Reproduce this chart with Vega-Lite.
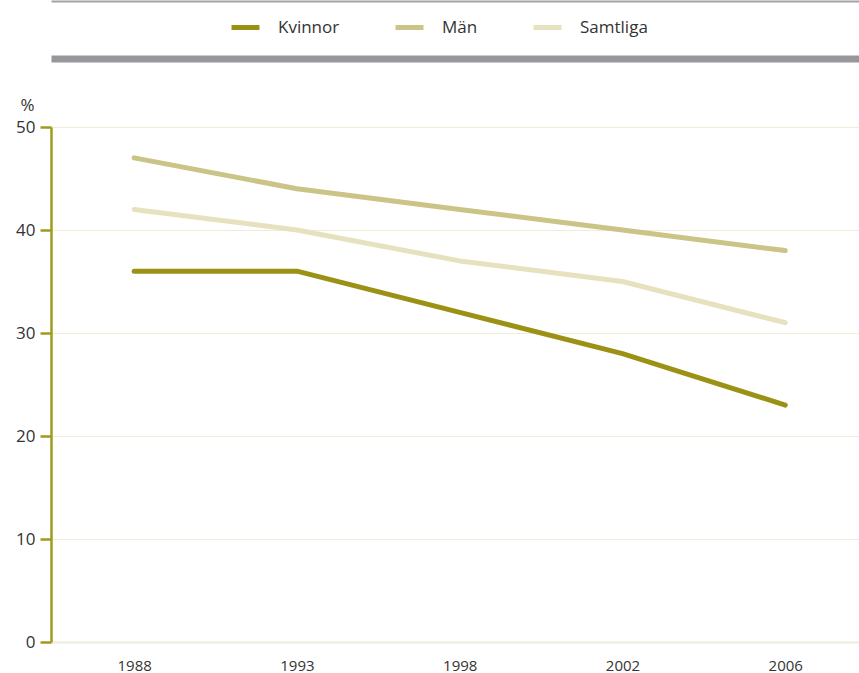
{
  "$schema": "https://vega.github.io/schema/vega-lite/v6.json",
  "width": 808,
  "height": 515,
  "autosize": "none",
  "padding": {"left": 51, "top": 127, "right": 0, "bottom": 31},
  "background": "white",
  "config": {
    "view": {"stroke": null},
    "font": "Open Sans",
    "axis": {"labelFont": "Open Sans", "titleFont": "Open Sans", "labelColor": "#333333", "titleColor": "#333333"},
    "legend": {"labelFont": "Open Sans"}
  },
  "data": {
    "values": [
      {"year": "1988", "group": "Kvinnor", "value": 36},
      {"year": "1993", "group": "Kvinnor", "value": 36},
      {"year": "1998", "group": "Kvinnor", "value": 32},
      {"year": "2002", "group": "Kvinnor", "value": 28},
      {"year": "2006", "group": "Kvinnor", "value": 23},
      {"year": "1988", "group": "Män", "value": 47},
      {"year": "1993", "group": "Män", "value": 44},
      {"year": "1998", "group": "Män", "value": 42},
      {"year": "2002", "group": "Män", "value": 40},
      {"year": "2006", "group": "Män", "value": 38},
      {"year": "1988", "group": "Samtliga", "value": 42},
      {"year": "1993", "group": "Samtliga", "value": 40},
      {"year": "1998", "group": "Samtliga", "value": 37},
      {"year": "2002", "group": "Samtliga", "value": 35},
      {"year": "2006", "group": "Samtliga", "value": 31}
    ]
  },
  "layer": [
    {
      "mark": {"type": "line", "strokeWidth": 5, "strokeCap": "round", "strokeJoin": "round"},
      "encoding": {
        "x": {
          "field": "year", "type": "ordinal",
          "scale": {"type": "point", "padding": 0.482, "align": 0.53},
          "axis": {
            "title": null, "labelAngle": 0, "ticks": false, "labelPadding": 16,
            "labelFontSize": 15, "grid": false,
            "domain": true, "domainColor": "#efecd8", "domainWidth": 2
          }
        },
        "y": {
          "field": "value", "type": "quantitative",
          "scale": {"domain": [0, 50], "nice": false},
          "axis": {
            "values": [0, 10, 20, 30, 40, 50],
            "title": "%", "titleAngle": 0, "titleX": -24, "titleY": -13,
            "titleAlign": "center", "titleBaseline": "bottom",
            "titleFontSize": 17, "titleFontWeight": "normal",
            "labelFontSize": 17, "labelPadding": 5,
            "tickSize": 11, "tickWidth": 2.5, "tickColor": "#a09a1f",
            "domainColor": "#a09a1f", "domainWidth": 2.5,
            "grid": true, "gridColor": "#efecd8", "gridWidth": 1
          }
        },
        "color": {
          "field": "group", "type": "nominal",
          "scale": {"domain": ["Kvinnor", "Män", "Samtliga"], "range": ["#9b9215", "#cac486", "#e6e2bf"]},
          "legend": {
            "title": null, "orient": "none", "direction": "horizontal",
            "legendX": 178, "legendY": -116, "gridAlign": "none",
            "symbolType": "stroke", "symbolSize": 784, "symbolStrokeWidth": 5,
            "labelFontSize": 17, "labelColor": "#333333", "labelOffset": 16,
            "columnPadding": 45
          }
        }
      }
    },
    {
      "mark": {"type": "line", "strokeOpacity": 0},
      "encoding": {
        "x": {
          "field": "year", "type": "ordinal",
          "scale": {"type": "point", "padding": 0.482, "align": 0.53},
          "axis": {"orient": "top", "offset": 68.5, "title": null, "labels": false, "ticks": false, "grid": false, "domainColor": "#97979b", "domainWidth": 7}
        },
        "y": {"field": "value", "type": "quantitative"},
        "detail": {"field": "group"}
      }
    },
    {
      "mark": {"type": "line", "strokeOpacity": 0},
      "encoding": {
        "x": {
          "field": "year", "type": "ordinal",
          "scale": {"type": "point", "padding": 0.482, "align": 0.53},
          "axis": {"orient": "top", "offset": 126, "title": null, "labels": false, "ticks": false, "grid": false, "domainColor": "#a3a3a7", "domainWidth": 2}
        },
        "y": {"field": "value", "type": "quantitative"},
        "detail": {"field": "group"}
      }
    }
  ],
  "resolve": {"scale": {"x": "independent"}, "axis": {"x": "independent"}}
}
